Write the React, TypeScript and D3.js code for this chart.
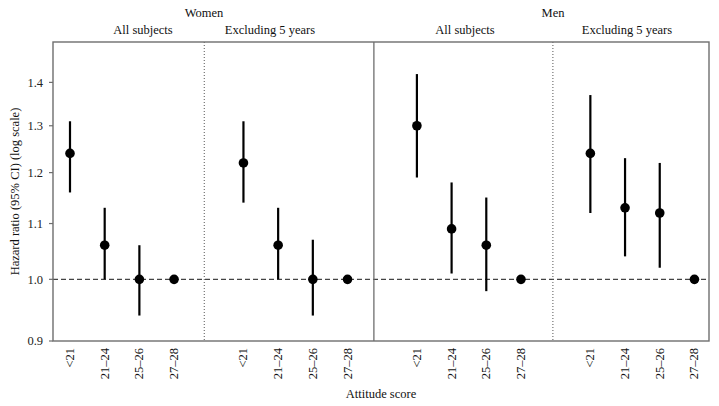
import React from "react";
import * as d3 from "d3";

const categories = ["<21", "21–24", "25–26", "27–28"];
const panelTitles = ["All subjects", "Excluding 5 years", "All subjects", "Excluding 5 years"];
const groupTitles = ["Women", "Men"];
const yTicks = [0.9, 1.0, 1.1, 1.2, 1.3, 1.4];

// hazard ratios per panel (Women all, Women excl, Men all, Men excl)
const womenAllHR = [1.24, 1.06, 1.0, 1.0];
const womenAllLo = [1.16, 1.0, 0.94, 1.0];
const womenAllHi = [1.31, 1.13, 1.06, 1.0];
const womenExclHR = [1.22, 1.06, 1.0, 1.0];
const womenExclLo = [1.14, 1.0, 0.94, 1.0];
const womenExclHi = [1.31, 1.13, 1.07, 1.0];
const menAllHR = [1.3, 1.09, 1.06, 1.0];
const menAllLo = [1.19, 1.01, 0.98, 1.0];
const menAllHi = [1.42, 1.18, 1.15, 1.0];
const menExclHR = [1.24, 1.13, 1.12, 1.0];
const menExclLo = [1.12, 1.04, 1.02, 1.0];
const menExclHi = [1.37, 1.23, 1.22, 1.0];

const panels = [
  { hr: womenAllHR, lo: womenAllLo, hi: womenAllHi, start: 0 },
  { hr: womenExclHR, lo: womenExclLo, hi: womenExclHi, start: 5 },
  { hr: menAllHR, lo: menAllLo, hi: menAllHi, start: 10 },
  { hr: menExclHR, lo: menExclLo, hi: menExclHi, start: 15 },
];

const W = 719;
const H = 406;
const left = 53;
const right = 709;
const top = 42;
const bottom = 341;

export default function App() {
  const x = d3.scaleLinear().domain([-0.49, 18.42]).range([left, right]);
  const y = d3.scaleLog().domain([0.9, 1.5]).range([bottom, top]);
  const font = "'Liberation Serif', 'Times New Roman', serif";
  const frame = "#6e6e6e";

  const dotted = [3.87, 13.92];
  const solid = 8.76;
  const panelTitleX = [143, 270, 465, 627];
  const groupTitleX = [204, 553];

  return (
    <svg
      width={W}
      height={H}
      style={{ position: "absolute", left: 0, top: 0, background: "#fff" }}
      fontFamily={font}
    >
      {/* group and panel titles */}
      {groupTitles.map((t, i) => (
        <text key={t} x={groupTitleX[i]} y={17} textAnchor="middle" fontSize={12.5} fill="#111">
          {t}
        </text>
      ))}
      {panelTitles.map((t, i) => (
        <text key={i} x={panelTitleX[i]} y={34} textAnchor="middle" fontSize={12.5} fill="#111">
          {t}
        </text>
      ))}

      {/* reference line at 1.0 */}
      <line
        x1={left}
        x2={right}
        y1={y(1)}
        y2={y(1)}
        stroke="#444"
        strokeWidth={1.2}
        strokeDasharray="5,3"
      />

      {/* separators */}
      {dotted.map((d) => (
        <line
          key={d}
          x1={x(d)}
          x2={x(d)}
          y1={top}
          y2={bottom}
          stroke="#555"
          strokeWidth={1}
          strokeDasharray="1,2"
        />
      ))}
      <line x1={x(solid)} x2={x(solid)} y1={top} y2={bottom} stroke={frame} strokeWidth={1.3} />

      {/* frame */}
      <rect
        x={left}
        y={top}
        width={right - left}
        height={bottom - top}
        fill="none"
        stroke={frame}
        strokeWidth={1.4}
      />

      {/* y axis ticks */}
      {yTicks.map((t) => (
        <g key={t}>
          <line x1={left - 4} x2={left} y1={y(t)} y2={y(t)} stroke={frame} strokeWidth={1.2} />
          <text
            x={left - 10}
            y={y(t)}
            dy="0.35em"
            textAnchor="end"
            fontSize={12.5}
            fill="#222"
          >
            {t.toFixed(1)}
          </text>
        </g>
      ))}

      {/* y axis title */}
      <text
        transform={`translate(19,${(top + bottom) / 2}) rotate(-90)`}
        textAnchor="middle"
        fontSize={12.5}
        fill="#111"
      >
        Hazard ratio (95% CI) (log scale)
      </text>

      {/* data */}
      {panels.map((p, pi) => (
        <g key={pi}>
          {categories.map((c, ci) => {
            const cx = x(p.start + ci);
            return (
              <g key={c}>
                {p.hi[ci] !== p.lo[ci] && (
                  <line
                    x1={cx}
                    x2={cx}
                    y1={y(p.lo[ci])}
                    y2={y(p.hi[ci])}
                    stroke="#000"
                    strokeWidth={2.2}
                  />
                )}
                <circle cx={cx} cy={y(p.hr[ci])} r={4.8} fill="#000" />
                <text
                  transform={`translate(${cx + 4},${bottom + 7}) rotate(-90)`}
                  textAnchor="end"
                  fontSize={12.5}
                  fill="#111"
                >
                  {c}
                </text>
              </g>
            );
          })}
        </g>
      ))}

      {/* x axis title */}
      <text x={(left + right) / 2} y={398} textAnchor="middle" fontSize={12.5} fill="#111">
        Attitude score
      </text>
    </svg>
  );
}
